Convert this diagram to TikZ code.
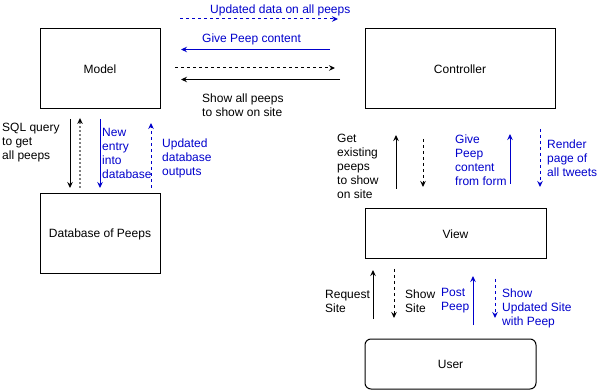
\documentclass[tikz,border=0pt]{standalone}
\usepackage{fontspec}
\setmainfont{Liberation Sans}
\usetikzlibrary{arrows.meta}
\definecolor{flowblue}{RGB}{0,0,204}
\definecolor{flowgray}{RGB}{128,128,128}
\begin{document}
\begin{tikzpicture}[x=1pt,y=-1pt,
  txt/.style={font=\fontsize{12}{14}\selectfont},
  box/.style={txt,draw,line width=1pt,inner sep=0pt},
  lbl/.style={txt,anchor=west,align=left,inner sep=0pt},
  flow/.style={line width=1pt,-{Stealth[length=6pt,width=5.5pt,inset=2pt]}},
  dsh/.style={dash pattern=on 3pt off 3pt},
  grayflow/.style={flowgray,line width=2pt,dash pattern=on 2pt off 2pt,
    -{Stealth[length=6pt,width=5.5pt,inset=2pt,color=black,line width=0pt]}}
]
\useasboundingbox (0,0) rectangle (616,390);

% components
\node[box,minimum width=120pt,minimum height=80pt] (model) at (100,69) {Model};
\node[box,minimum width=190pt,minimum height=80pt] (ctrl) at (460,69) {Controller};
\node[box,minimum width=120pt,minimum height=80pt] (db) at (100,234) {Database of Peeps};
\node[box,minimum width=181pt,minimum height=50pt] (view) at (455.5,234) {View};
\node[box,minimum width=171pt,minimum height=50pt,rounded corners=6pt] (user) at (450.5,364) {User};

% Model <-> Controller
\coordinate (h1a) at (180,19);   \coordinate (h1b) at (338,19);
\coordinate (h2a) at (330,49.5); \coordinate (h2b) at (181,49.5);
\coordinate (h3a) at (175,68);   \coordinate (h3b) at (335,68);
\coordinate (h4a) at (340,79.5); \coordinate (h4b) at (181,79.5);
\draw[flow,dsh,flowblue] (h1a) -- (h1b);
\draw[flow,flowblue] (h2a) -- (h2b);
\draw[flow,dsh] (h3a) -- (h3b);
\draw[flow] (h4a) -- (h4b);
\node[lbl,text=flowblue] (t1) at (210,10) {Updated data on all peeps};
\node[lbl,text=flowblue] (t2) at (202,39) {Give Peep content};
\node[lbl] (t3) at (202,105.5) {Show all peeps\\to show on site};

% Model <-> Database
\coordinate (v1a) at (70,119);  \coordinate (v1b) at (70,188);
\coordinate (v2a) at (80,188);  \coordinate (v2b) at (80,118);
\coordinate (v3a) at (100,119); \coordinate (v3b) at (100,188);
\coordinate (v4a) at (151,188); \coordinate (v4b) at (151,123);
\draw[flow] (v1a) -- (v1b);
\draw[grayflow] (v2a) -- (v2b);
\draw[flow,flowblue] (v3a) -- (v3b);
\draw[flow,dsh,flowblue] (v4a) -- (v4b);
\node[lbl] (t4) at (2,143) {SQL query\\to get\\all peeps};
\node[lbl,text=flowblue] (t5) at (102,153) {New\\entry\\into\\database};
\node[lbl,text=flowblue] (t6) at (162,158) {Updated\\database\\outputs};

% Controller <-> View
\coordinate (c1a) at (396,189); \coordinate (c1b) at (396,135);
\coordinate (c2a) at (423,139); \coordinate (c2b) at (423,187);
\coordinate (c3a) at (510,184); \coordinate (c3b) at (510,134);
\coordinate (c4a) at (540,129); \coordinate (c4b) at (540,187);
\draw[flow] (c1a) -- (c1b);
\draw[flow,dsh] (c2a) -- (c2b);
\draw[flow,flowblue] (c3a) -- (c3b);
\draw[flow,dsh,flowblue] (c4a) -- (c4b);
\node[lbl] (t7) at (337,166.5) {Get\\existing\\peeps\\to show\\on site};
\node[lbl,text=flowblue] (t8) at (455,160) {Give\\Peep\\content\\from form};
\node[lbl,text=flowblue] (t9) at (547,158) {Render\\page of\\all tweets};

% View <-> User
\coordinate (u1a) at (373,319); \coordinate (u1b) at (373,270);
\coordinate (u2a) at (394,269); \coordinate (u2b) at (394,318);
\coordinate (u3a) at (473,325); \coordinate (u3b) at (473,276);
\coordinate (u4a) at (495,279); \coordinate (u4b) at (495,318);
\draw[flow] (u1a) -- (u1b);
\draw[flow,dsh] (u2a) -- (u2b);
\draw[flow,flowblue] (u3a) -- (u3b);
\draw[flow,dsh,flowblue] (u4a) -- (u4b);
\node[lbl] (t10) at (325,301) {Request\\Site};
\node[lbl] (t11) at (405,301) {Show\\Site};
\node[lbl,text=flowblue] (t12) at (441,301) {Post\\Peep};
\node[lbl,text=flowblue] (t13) at (502,308) {Show\\Updated Site\\with Peep};
\end{tikzpicture}
\end{document}
